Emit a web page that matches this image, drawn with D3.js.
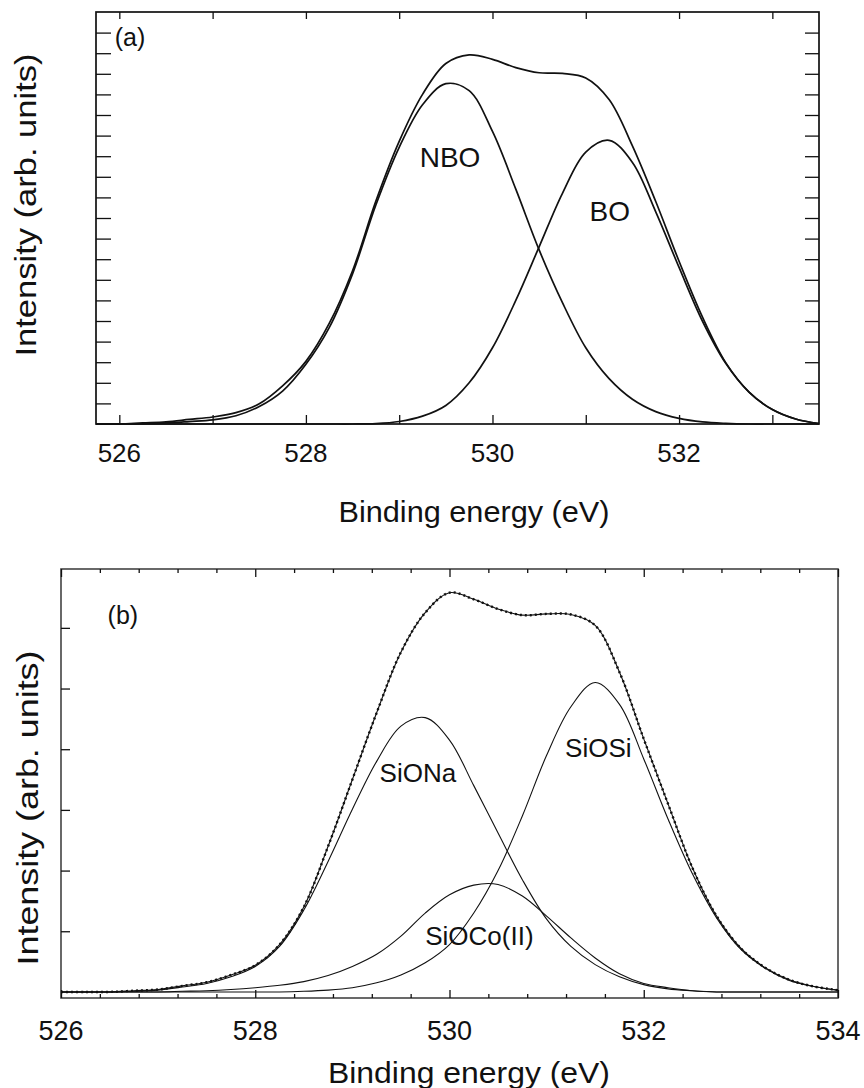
<!DOCTYPE html>
<html lang="en">
<head>
<meta charset="UTF-8">
<title>O 1s XPS fits</title>
<style>
  body { margin: 0; background: #fff; }
  svg { display: block; font-family: "Liberation Sans", Arial, Helvetica, sans-serif; }
  .frameA { fill: none; stroke: #111; stroke-width: 1.7; }
  .frameB { fill: none; stroke: #444; stroke-width: 1.6; }
  .axis path { display: none; }
  .axis line { stroke: #111; stroke-width: 1.3; }
  .axis text { display: none; }
  .curveA { fill: none; stroke: #111; stroke-width: 1.7; }
  .curveB { fill: none; stroke: #111; stroke-width: 1.1; }
  .dots { fill: none; stroke: #111; stroke-width: 2.4; stroke-dasharray: 2 3; }
  .tick-label { fill: #111; text-anchor: middle; }
  .lbl { fill: #111; }
</style>
</head>
<body>
<svg width="864" height="1088"></svg>
<script src="https://d3js.org/d3.v7.min.js"></script>
<script>
// ---- panel (a) data, O 1s ----
const energyA = [525.75, 526, 526.25, 526.5, 526.75, 527, 527.25, 527.5, 527.75, 528, 528.25, 528.5,
  528.75, 529, 529.25, 529.5, 529.75, 530, 530.25, 530.5, 530.75, 531, 531.25, 531.5,
  531.75, 532, 532.25, 532.5, 532.75, 533, 533.25, 533.5];
const envelopeA = [0, 0, 0.05, 0.1, 0.22, 0.34, 0.55, 0.98, 1.85, 3.04, 4.88, 7.44,
  10.82, 13.72, 16.0, 17.5, 17.92, 17.7, 17.3, 17.05, 17.02, 16.8, 15.75, 13.5,
  10.8, 7.9, 5.2, 2.98, 1.55, 0.7, 0.24, 0.02];
const nboA = [0, 0, 0.02, 0.05, 0.12, 0.2, 0.4, 0.85, 1.6, 2.9, 4.68, 7.29,
  10.63, 13.43, 15.5, 16.52, 16.18, 14.2, 11.4, 8.45, 5.89, 3.7, 2.2, 1.2,
  0.6, 0.27, 0.1, 0.03, 0, 0, 0, 0];
const boA = [0, 0, 0, 0, 0, 0, 0, 0, 0, 0, 0, 0,
  0.02, 0.12, 0.38, 0.9, 2.0, 3.7, 6.0, 8.6, 11.2, 13.2, 13.77, 12.7,
  10.3, 7.6, 5.0, 2.95, 1.55, 0.7, 0.24, 0.02];
const ticksA = [526, 527, 528, 529, 530, 531, 532, 533];
const tickLabelsA = [526, 528, 530, 532];
const yTicksA = [1, 2, 3, 4, 5, 6, 7, 8, 9, 10, 11, 12, 13, 14, 15, 16, 17, 18, 19];
const peakLabelsA = [
  { text: "NBO", e: 529.22, v: 12.5 },
  { text: "BO", e: 531.04, v: 9.85 }
];

// ---- panel (b) data ----
const energyB = [526, 526.25, 526.5, 526.75, 527, 527.25, 527.5, 527.75, 528, 528.25, 528.5,
  528.75, 529, 529.25, 529.5, 529.75, 530, 530.25, 530.5, 530.75, 531, 531.25, 531.5,
  531.75, 532, 532.25, 532.5, 532.75, 533, 533.25, 533.5, 533.75, 534];
const envelopeB = [0, 0, 0, 0.02, 0.04, 0.1, 0.16, 0.28, 0.44, 0.78, 1.4,
  2.4, 3.5, 4.6, 5.6, 6.25, 6.58, 6.47, 6.31, 6.21, 6.23, 6.22, 6.04,
  5.27, 4.17, 3.1, 2.05, 1.25, 0.72, 0.4, 0.2, 0.09, 0.03];
const sionaB = [0, 0, 0, 0.01, 0.03, 0.08, 0.14, 0.25, 0.42, 0.75, 1.35,
  2.15, 3.01, 3.8, 4.38, 4.52, 4.15, 3.4, 2.62, 1.85, 1.2, 0.75, 0.45,
  0.25, 0.12, 0.05, 0.02, 0, 0, 0, 0, 0, 0];
const siocoB = [0, 0, 0, 0, 0, 0.01, 0.02, 0.04, 0.07, 0.11, 0.17,
  0.27, 0.42, 0.62, 0.92, 1.3, 1.6, 1.76, 1.77, 1.58, 1.25, 0.89, 0.56,
  0.3, 0.14, 0.07, 0.02, 0, 0, 0, 0, 0, 0];
const siosiB = [0, 0, 0, 0, 0, 0, 0, 0, 0, 0, 0.01,
  0.03, 0.07, 0.15, 0.28, 0.48, 0.78, 1.3, 2.0, 2.9, 3.9, 4.7, 5.1,
  4.74, 3.84, 2.85, 1.95, 1.22, 0.7, 0.39, 0.19, 0.09, 0.03];
const majorTicksB = [526, 528, 530, 532, 534];
const minorTicksB = [526.4, 526.8, 527.2, 527.6, 528.4, 528.8, 529.2, 529.6,
  530.4, 530.8, 531.2, 531.6, 532.4, 532.8, 533.2, 533.6];
const yTicksB = [1, 2, 3, 4, 5, 6];
const peakLabelsB = [
  { text: "SiONa", e: 529.28, v: 3.46 },
  { text: "SiOSi", e: 531.19, v: 3.87 },
  { text: "SiOCo(II)", e: 529.75, v: 0.77 }
];

const svg = d3.select("svg");
const pairs = (xs, ys) => xs.map((x, i) => [x, ys[i]]);

// ================= panel (a) =================
const xA = d3.scaleLinear().domain([525.75, 533.5]).range([96, 819]);
const yA = d3.scaleLinear().domain([0, 20]).range([424, 12]);
const gA = svg.append("g");

gA.append("rect").attr("class", "frameA")
  .attr("x", xA.range()[0]).attr("y", yA.range()[1])
  .attr("width", xA.range()[1] - xA.range()[0])
  .attr("height", yA.range()[0] - yA.range()[1]);

gA.append("g").attr("class", "axis").attr("transform", `translate(0,${yA(0)})`)
  .call(d3.axisBottom(xA).tickValues(ticksA).tickSizeInner(-9).tickSizeOuter(0));
gA.append("g").attr("class", "axis").attr("transform", `translate(0,${yA(20)})`)
  .call(d3.axisTop(xA).tickValues(ticksA).tickSizeInner(-7).tickSizeOuter(0));
gA.append("g").attr("class", "axis").attr("transform", `translate(${xA(525.75)},0)`)
  .call(d3.axisLeft(yA).tickValues(yTicksA).tickSizeInner(-15).tickSizeOuter(0));
gA.append("g").attr("class", "axis").attr("transform", `translate(${xA(533.5)},0)`)
  .call(d3.axisRight(yA).tickValues(yTicksA).tickSizeInner(-14).tickSizeOuter(0));

gA.selectAll("text.tick-label").data(tickLabelsA).join("text")
  .attr("class", "tick-label")
  .attr("x", d => xA(d)).attr("y", yA(0) + 38)
  .style("font-size", "26px")
  .text(d => d);

const smooth = d3.curveCatmullRom.alpha(0.5);
const lineA = d3.line().x(d => xA(d[0])).y(d => yA(d[1])).curve(smooth);
gA.selectAll("path.curveA").data([envelopeA, nboA, boA]).join("path")
  .attr("class", "curveA")
  .attr("d", s => lineA(pairs(energyA, s)));

gA.selectAll("text.peak").data(peakLabelsA).join("text")
  .attr("class", "lbl peak")
  .attr("x", d => xA(d.e)).attr("y", d => yA(d.v))
  .style("font-size", "28px")
  .text(d => d.text);

gA.append("text").attr("class", "lbl")
  .attr("x", xA(525.95)).attr("y", yA(18.35))
  .style("font-size", "25px").text("(a)");

gA.append("text").attr("class", "lbl")
  .attr("x", 474).attr("y", 522).attr("text-anchor", "middle")
  .attr("textLength", 271).attr("lengthAdjust", "spacingAndGlyphs")
  .style("font-size", "30px").text("Binding energy (eV)");

gA.append("text").attr("class", "lbl")
  .attr("transform", "translate(36,205) rotate(-90)").attr("text-anchor", "middle")
  .attr("textLength", 303).attr("lengthAdjust", "spacingAndGlyphs")
  .style("font-size", "29px").text("Intensity (arb. units)");

// ================= panel (b) =================
const xB = d3.scaleLinear().domain([526, 534]).range([61, 838]);
const yB = d3.scaleLinear().domain([-0.1, 6.97]).range([998, 569]);
const gB = svg.append("g");

gB.append("rect").attr("class", "frameB")
  .attr("x", xB.range()[0]).attr("y", yB.range()[1])
  .attr("width", xB.range()[1] - xB.range()[0])
  .attr("height", yB.range()[0] - yB.range()[1]);

const bottomB = gB.append("g").attr("transform", `translate(0,${yB(-0.1)})`);
bottomB.append("g").attr("class", "axis")
  .call(d3.axisBottom(xB).tickValues(minorTicksB).tickSizeInner(-4).tickSizeOuter(0));
bottomB.append("g").attr("class", "axis")
  .call(d3.axisBottom(xB).tickValues(majorTicksB).tickSizeInner(-8).tickSizeOuter(0));
const topB = gB.append("g").attr("transform", `translate(0,${yB(6.97)})`);
topB.append("g").attr("class", "axis")
  .call(d3.axisTop(xB).tickValues(minorTicksB).tickSizeInner(-4).tickSizeOuter(0));
topB.append("g").attr("class", "axis")
  .call(d3.axisTop(xB).tickValues(majorTicksB).tickSizeInner(-8).tickSizeOuter(0));
gB.append("g").attr("class", "axis").attr("transform", `translate(${xB(526)},0)`)
  .call(d3.axisLeft(yB).tickValues(yTicksB).tickSizeInner(-9).tickSizeOuter(0));

gB.selectAll("text.tick-label").data(majorTicksB).join("text")
  .attr("class", "tick-label")
  .attr("x", d => xB(d)).attr("y", yB(-0.1) + 42)
  .style("font-size", "27px")
  .text(d => d);

const lineB = d3.line().x(d => xB(d[0])).y(d => yB(d[1])).curve(smooth);
gB.selectAll("path.curveB").data([envelopeB, sionaB, siocoB, siosiB]).join("path")
  .attr("class", "curveB")
  .attr("d", s => lineB(pairs(energyB, s)));
gB.append("path").attr("class", "dots")
  .attr("d", lineB(pairs(energyB, envelopeB)));

gB.selectAll("text.peak").data(peakLabelsB).join("text")
  .attr("class", "lbl peak")
  .attr("x", d => xB(d.e)).attr("y", d => yB(d.v))
  .style("font-size", "26px")
  .text(d => d.text);

gB.append("text").attr("class", "lbl")
  .attr("x", xB(526.48)).attr("y", yB(6.06))
  .style("font-size", "25px").text("(b)");

gB.append("text").attr("class", "lbl")
  .attr("x", 469).attr("y", 1083).attr("text-anchor", "middle")
  .attr("textLength", 282).attr("lengthAdjust", "spacingAndGlyphs")
  .style("font-size", "30px").text("Binding energy (eV)");

gB.append("text").attr("class", "lbl")
  .attr("transform", "translate(38,808) rotate(-90)").attr("text-anchor", "middle")
  .attr("textLength", 315).attr("lengthAdjust", "spacingAndGlyphs")
  .style("font-size", "29px").text("Intensity (arb. units)");
</script>
</body>
</html>
